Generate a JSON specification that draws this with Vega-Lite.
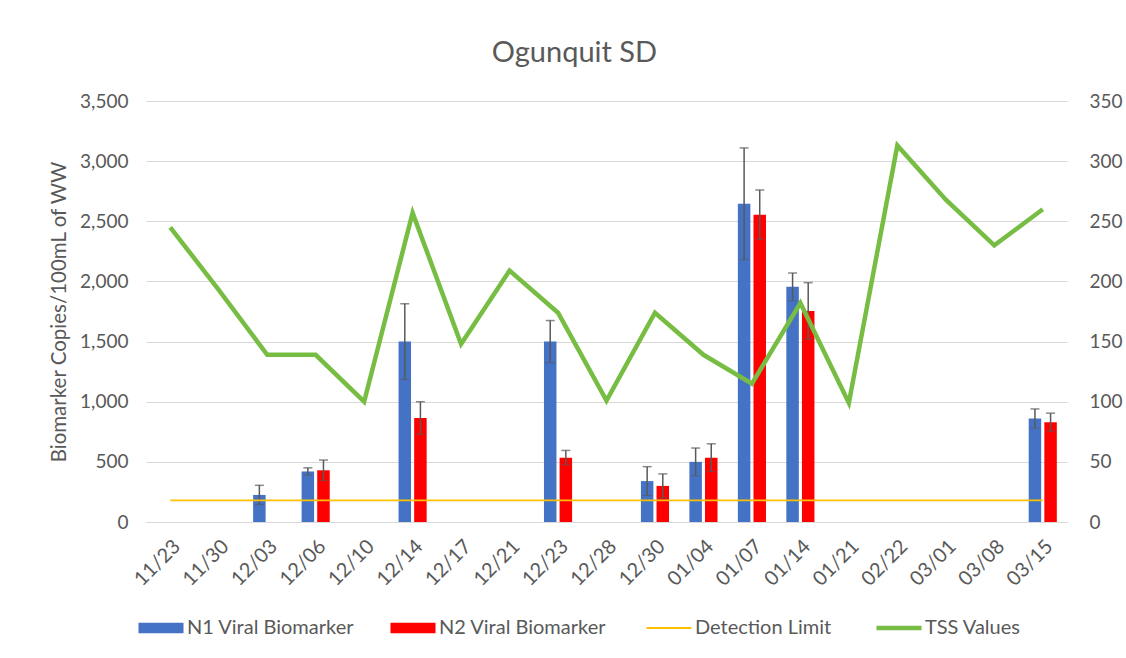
{
  "$schema": "https://vega.github.io/schema/vega-lite/v6.json",
  "width": 921,
  "height": 421,
  "autosize": {"type": "none"},
  "padding": {"left": 146, "top": 101, "right": 59, "bottom": 136},
  "background": "white",
  "title": {"text": "Ogunquit SD", "fontSize": 29, "font": "Lato", "fontWeight": "normal", "color": "#595959", "anchor": "middle", "offset": 24, "dx": -32},
  "datasets": {
    "bars": [
      {"date": "12/03", "marker": "N1 Viral Biomarker", "value": 225, "low": 145, "high": 305},
      {"date": "12/06", "marker": "N1 Viral Biomarker", "value": 420, "low": 390, "high": 450},
      {"date": "12/06", "marker": "N2 Viral Biomarker", "value": 430, "low": 345, "high": 515},
      {"date": "12/14", "marker": "N1 Viral Biomarker", "value": 1500, "low": 1185, "high": 1815},
      {"date": "12/14", "marker": "N2 Viral Biomarker", "value": 865, "low": 730, "high": 1000},
      {"date": "12/23", "marker": "N1 Viral Biomarker", "value": 1500, "low": 1325, "high": 1675},
      {"date": "12/23", "marker": "N2 Viral Biomarker", "value": 535, "low": 475, "high": 595},
      {"date": "12/30", "marker": "N1 Viral Biomarker", "value": 340, "low": 220, "high": 460},
      {"date": "12/30", "marker": "N2 Viral Biomarker", "value": 300, "low": 200, "high": 400},
      {"date": "01/04", "marker": "N1 Viral Biomarker", "value": 500, "low": 385, "high": 615},
      {"date": "01/04", "marker": "N2 Viral Biomarker", "value": 535, "low": 420, "high": 650},
      {"date": "01/07", "marker": "N1 Viral Biomarker", "value": 2645, "low": 2180, "high": 3110},
      {"date": "01/07", "marker": "N2 Viral Biomarker", "value": 2555, "low": 2350, "high": 2760},
      {"date": "01/14", "marker": "N1 Viral Biomarker", "value": 1955, "low": 1840, "high": 2070},
      {"date": "01/14", "marker": "N2 Viral Biomarker", "value": 1755, "low": 1520, "high": 1990},
      {"date": "03/15", "marker": "N1 Viral Biomarker", "value": 860, "low": 780, "high": 940},
      {"date": "03/15", "marker": "N2 Viral Biomarker", "value": 830, "low": 755, "high": 905}
    ],
    "series": [
      {"date": "11/23", "tss": 245, "limit": 180},
      {"date": "11/30", "tss": 193, "limit": 180},
      {"date": "12/03", "tss": 139, "limit": 180},
      {"date": "12/06", "tss": 139, "limit": 180},
      {"date": "12/10", "tss": 100, "limit": 180},
      {"date": "12/14", "tss": 257, "limit": 180},
      {"date": "12/17", "tss": 148, "limit": 180},
      {"date": "12/21", "tss": 209, "limit": 180},
      {"date": "12/23", "tss": 174, "limit": 180},
      {"date": "12/28", "tss": 101, "limit": 180},
      {"date": "12/30", "tss": 174, "limit": 180},
      {"date": "01/04", "tss": 139, "limit": 180},
      {"date": "01/07", "tss": 115, "limit": 180},
      {"date": "01/14", "tss": 182, "limit": 180},
      {"date": "01/21", "tss": 99, "limit": 180},
      {"date": "02/22", "tss": 313, "limit": 180},
      {"date": "03/01", "tss": 268, "limit": 180},
      {"date": "03/08", "tss": 230, "limit": 180},
      {"date": "03/15", "tss": 260, "limit": 180}
    ]
  },
  "config": {
    "view": {"stroke": null},
    "font": "Lato",
    "axis": {
      "labelFont": "Lato", "titleFont": "Lato", "labelColor": "#595959", "titleColor": "#595959",
      "labelFontSize": 19, "titleFontSize": 20.5, "titleFontWeight": "normal",
      "ticks": false, "domain": false, "gridColor": "#D9D9D9", "gridWidth": 1
    }
  },
  "layer": [
    {
      "layer": [
        {
          "data": {"name": "bars"},
          "mark": {"type": "bar"},
          "encoding": {
            "x": {"field": "date", "type": "nominal", "sort": null,
              "scale": {"domain": ["11/23","11/30","12/03","12/06","12/10","12/14","12/17","12/21","12/23","12/28","12/30","01/04","01/07","01/14","01/21","02/22","03/01","03/08","03/15"], "paddingInner": 0.42, "paddingOuter": 0.21},
              "axis": {"title": null, "labelAngle": -45, "labelPadding": 14, "domain": true, "domainColor": "#D9D9D9", "grid": false, "labelFontSize": 20}},
            "xOffset": {"field": "marker", "type": "nominal", "scale": {"domain": ["N1 Viral Biomarker", "N2 Viral Biomarker"], "paddingInner": 0.2, "paddingOuter": 0}},
            "y": {"field": "value", "type": "quantitative",
              "scale": {"domain": [0, 3500], "nice": false},
              "axis": {"title": "Biomarker Copies/100mL of WW", "values": [0,500,1000,1500,2000,2500,3000,3500], "format": ",.0f", "labelPadding": 18, "titlePadding": 10, "grid": true}},
            "color": {"field": "marker", "type": "nominal",
              "scale": {"domain": ["N1 Viral Biomarker", "N2 Viral Biomarker", "Detection Limit", "TSS Values"], "range": ["#4472C4", "#FF0000", "#FFC000", "#77BD43"]},
              "legend": {
                "orient": "none", "legendX": 5, "legendY": 517, "direction": "horizontal", "columns": 4,
                "title": null, "labelFont": "Lato", "labelFontSize": 20, "labelColor": "#595959", "labelLimit": 400,
                "symbolSize": 2025, "labelOffset": 16, "columnPadding": 35,
                "encode": {
                  "symbols": {
                    "update": {
                      "shape": {"signal": "datum.value === 'Detection Limit' || datum.value === 'TSS Values' ? 'stroke' : 'M-1,-0.23H1V0.23H-1Z'"},
                      "strokeWidth": {"signal": "datum.value === 'TSS Values' ? 4.5 : datum.value === 'Detection Limit' ? 2 : 0"},
                      "stroke": {"scale": "color", "field": "value"},
                      "fill": {"scale": "color", "field": "value"},
                      "opacity": {"value": 1},
                      "fillOpacity": {"value": 1},
                      "strokeOpacity": {"value": 1}
                    }
                  }
                }
              }}
          }
        },
        {
          "data": {"name": "bars"},
          "mark": {"type": "rule", "color": "#595959", "strokeWidth": 1.5},
          "encoding": {
            "x": {"field": "date", "type": "nominal", "sort": null},
            "xOffset": {"field": "marker", "type": "nominal"},
            "y": {"field": "low", "type": "quantitative"},
            "y2": {"field": "high"}
          }
        },
        {
          "data": {"name": "bars"},
          "mark": {"type": "tick", "color": "#595959", "size": 9, "thickness": 1.5},
          "encoding": {
            "x": {"field": "date", "type": "nominal", "sort": null},
            "xOffset": {"field": "marker", "type": "nominal"},
            "y": {"field": "high", "type": "quantitative"}
          }
        },
        {
          "data": {"name": "bars"},
          "mark": {"type": "tick", "color": "#595959", "size": 9, "thickness": 1.2, "opacity": 0.6},
          "encoding": {
            "x": {"field": "date", "type": "nominal", "sort": null},
            "xOffset": {"field": "marker", "type": "nominal"},
            "y": {"field": "low", "type": "quantitative"}
          }
        },
        {
          "data": {"name": "series"},
          "mark": {"type": "line", "strokeWidth": 1.6},
          "encoding": {
            "x": {"field": "date", "type": "nominal", "sort": null},
            "y": {"field": "limit", "type": "quantitative"},
            "color": {"datum": "Detection Limit"}
          }
        }
      ]
    },
    {
      "data": {"name": "series"},
      "mark": {"type": "line", "strokeWidth": 4.5, "strokeJoin": "miter"},
      "encoding": {
        "x": {"field": "date", "type": "nominal", "sort": null},
        "y": {"field": "tss", "type": "quantitative",
          "scale": {"domain": [0, 350], "nice": false},
          "axis": {"orient": "right", "title": null, "values": [0,50,100,150,200,250,300,350], "labelPadding": 22, "grid": false}},
        "color": {"datum": "TSS Values"}
      }
    }
  ],
  "resolve": {"scale": {"y": "independent"}}
}
